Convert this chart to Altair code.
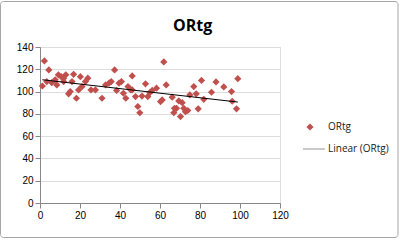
import altair as alt
import pandas as pd

# Data
xs = [1.2, 2.2, 4.4, 3.4, 5.9, 7.6, 8.4, 9.2, 10.6, 11.8, 12.9, 11.8, 14.3, 15.1, 16.8, 16.0,
      18.2, 19.3, 20.2, 21.0, 22.7, 23.9, 25.5, 27.7, 31.0, 32.8, 34.5, 35.6, 37.3, 38.3,
      39.5, 40.7, 41.7, 42.9, 44.0, 45.4, 46.1, 47.75, 46.1, 48.9, 49.9, 51.0, 52.75, 53.9,
      54.9, 56.1, 58.25, 60.25, 61.1, 61.9, 63.1, 66.1, 67.25, 66.9, 68.25, 69.4, 70.25,
      71.1, 71.9, 72.75, 73.9, 74.9, 76.9, 78.1, 79.1, 80.75, 81.9, 85.75, 88.0, 91.9,
      95.75, 96.1, 98.25, 98.9]
ys = [105, 127.5, 119.4, 109, 108, 110.5, 106, 115, 113.4, 112, 115, 109, 98, 100, 115.5, 109,
      94, 101.5, 113.4, 104.5, 109, 112, 101.5, 101.5, 94, 106, 107.5, 109, 119.4, 101,
      107.5, 109, 98.5, 94, 104.5, 101.5, 101.5, 95.5, 114, 86.6, 81, 96, 107, 95.5,
      99, 101, 103, 91, 92.5, 126.6, 106, 95, 85, 81, 85, 91.6, 77.6,
      90, 85, 82, 83, 97, 104.5, 98, 84.5, 110, 93, 99.4, 108.7, 104.2,
      100, 91.3, 84.5, 111.6]
x_ticks = [0, 20, 40, 60, 80, 100, 120]
y_ticks = [0, 20, 40, 60, 80, 100, 120, 140]
series_names = ["ORtg", "Linear (ORtg)"]
title_text = "ORtg"

df = pd.DataFrame({"x": xs, "y": ys, "series": "ORtg"})

FONT = "Open Sans"
RED = "#C0504D"

line_path = "M-1.95,-0.13L4.1,-0.13L4.1,0.13L-1.95,0.13Z"

leg = alt.Legend(title=None, orient="none", legendX=265, legendY=75,
                 symbolSize=52, rowPadding=12, labelFont=FONT,
                 labelFontSize=10, labelColor="#222", labelOffset=13)

x_axis = alt.Axis(values=x_ticks, title=None, grid=False, labelOverlap=False,
                  labelFlush=False, labelBound=False)
y_axis = alt.Axis(values=y_ticks, title=None, grid=True, labelOverlap=False,
                  labelFlush=False, labelBound=False)

points = alt.Chart(df).mark_point(filled=True, opacity=1, size=52).encode(
    x=alt.X("x:Q", scale=alt.Scale(domain=[0, 120], nice=False), axis=x_axis),
    y=alt.Y("y:Q", scale=alt.Scale(domain=[0, 140], nice=False), axis=y_axis),
    color=alt.Color("series:N", scale=alt.Scale(domain=series_names, range=[RED, "#8c8c8c"]),
                    legend=leg),
    shape=alt.Shape("series:N", scale=alt.Scale(domain=series_names, range=["diamond", line_path]),
                    legend=leg),
)

trend = alt.Chart(df).transform_regression("x", "y").mark_line(
    color="#000000", strokeWidth=1
).encode(x=alt.X("x:Q", axis=x_axis), y=alt.Y("y:Q", axis=y_axis))

border = alt.Chart(pd.DataFrame({"a": [0]})).mark_rect(
    fill=None, stroke="#a6a6a6", strokeWidth=1, cornerRadius=3
).encode(x=alt.value(-39.5), x2=alt.value(358), y=alt.value(-45.5), y2=alt.value(190.5))

chart = alt.layer(border, points, trend).properties(
    width=240, height=156,
    title=alt.TitleParams(title_text, font=FONT, fontSize=16, fontWeight="bold",
                          color="#000", anchor="start", dx=133, dy=37, frame="group"),
    autosize=alt.AutoSizeParams(type="none"),
    padding={"left": 40, "top": 47, "right": 120, "bottom": 38},
).configure_view(stroke=None).configure_axis(
    labelFont=FONT, labelFontSize=10, labelColor="#222", labelOverlap=False,
    domainColor="#868686", tickColor="#868686", gridColor="#a0a0a0",
    tickSize=4, labelPadding=4,
).configure(background="white")

chart.save("out.html", embed_options={"renderer": "svg", "actions": False})
